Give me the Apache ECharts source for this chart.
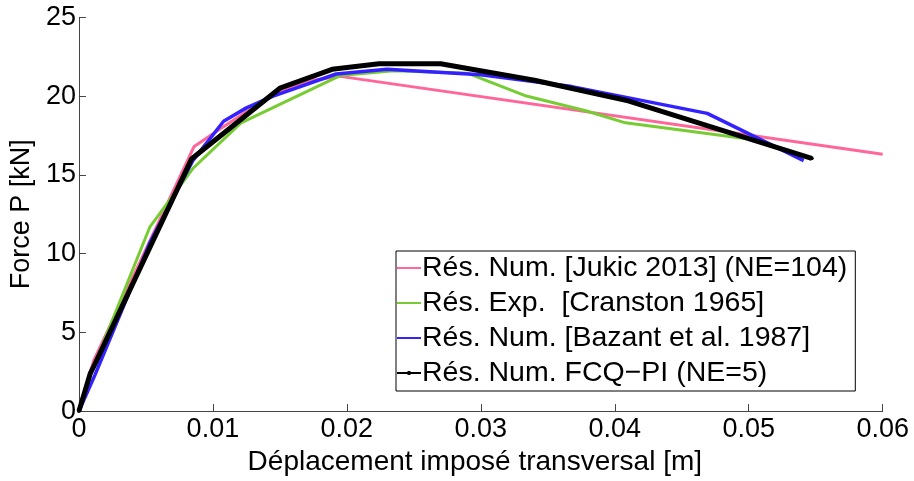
<!DOCTYPE html>
<html>
<head>
<meta charset="utf-8">
<script src="https://cdn.jsdelivr.net/npm/echarts@6/dist/echarts.min.js"></script>
<style>
  html, body { margin: 0; padding: 0; background: #fff; }
  #graph { width: 914px; height: 481px; }
</style>
</head>
<body>
<div id="graph"></div>
<script>
// tick labels
var xTicks = ['0', '0.01', '0.02', '0.03', '0.04', '0.05', '0.06'];
var yTicks = ['0', '5', '10', '15', '20', '25'];

// Rés. Num. [Jukic 2013] (NE=104)
var jukicX = [0, 0.0011, 0.0086, 0.0107, 0.0125, 0.015, 0.0175, 0.0195, 0.06];
var jukicY = [0, 3.2, 16.8, 18.0, 19.0, 20.3, 21.0, 21.25, 16.3];

// Rés. Exp. [Cranston 1965]
var cranstonX = [0, 0.001, 0.0053, 0.0085, 0.0121, 0.0195, 0.0235, 0.029, 0.0334, 0.0379, 0.0408, 0.0507];
var cranstonY = [0, 2.6, 11.7, 15.4, 18.3, 21.3, 21.6, 21.45, 20.0, 19.05, 18.3, 17.2];

// Rés. Num. [Bazant et al. 1987]
var bazantX = [0, 0.0012, 0.0053, 0.0085, 0.0108, 0.0125, 0.0145, 0.0192, 0.023, 0.03, 0.0368, 0.0469, 0.0541];
var bazantY = [0, 2.3, 10.7, 15.9, 18.4, 19.25, 20.0, 21.4, 21.7, 21.35, 20.6, 18.9, 15.9];

// Rés. Num. FCQ-PI (NE=5)
var fcqX = [0, 0.00085, 0.0012, 0.0084, 0.015, 0.0189, 0.0224, 0.027, 0.034, 0.041, 0.0547];
var fcqY = [0, 2.4, 3.0, 16.0, 20.5, 21.7, 22.05, 22.05, 21.0, 19.7, 16.05];

var names = [
  'Rés. Num. [Jukic 2013] (NE=104)',
  'Rés. Exp.  [Cranston 1965]',
  'Rés. Num. [Bazant et al. 1987]',
  'Rés. Num. FCQ\u2212PI (NE=5)'
];

function pairs(xs, ys) {
  var out = [];
  for (var i = 0; i < xs.length; i++) out.push([xs[i], ys[i]]);
  return out;
}

var font = 'Liberation Sans, Arial, Helvetica, sans-serif';
var axisCol = '#444';
// legend samples: plain thin line, and a line with a small dot for the black one
var lineIcon = 'path://M0,0 L24,0 L24,2 L0,2 Z';
var dotIcon = 'path://M0,1 L24,1 L24,3 L0,3 Z M10.5,0 L13.5,0 L13.5,4 L10.5,4 Z';

var chart = echarts.init(document.getElementById('graph'));
chart.setOption({
  animation: false,
  textStyle: { fontFamily: font, color: '#000' },
  grid: { left: 78.5, right: 31.3, top: 17.3, bottom: 63.7 },
  legend: {
    orient: 'vertical',
    left: 396,
    top: 251,
    backgroundColor: '#fff',
    borderColor: '#000',
    borderWidth: 1,
    padding: [2, 8, 3, 1],
    itemGap: 5,
    itemWidth: 24,
    itemHeight: 8,
    symbolKeepAspect: true,
    textStyle: { fontFamily: font, fontSize: 28.5, color: '#000', lineHeight: 30, padding: [0, 0, 0, -4] },
    data: [
      { name: names[0], icon: lineIcon },
      { name: names[1], icon: lineIcon },
      { name: names[2], icon: lineIcon },
      { name: names[3], icon: dotIcon }
    ]
  },
  xAxis: {
    type: 'value',
    min: 0,
    max: 0.06,
    interval: 0.01,
    name: 'Déplacement imposé transversal [m]',
    nameLocation: 'middle',
    nameGap: 30,
    nameTextStyle: { fontFamily: font, fontSize: 28, color: '#000', padding: [0, 12, 0, 0] },
    axisLine: { show: true, lineStyle: { color: axisCol, width: 1 } },
    axisTick: { show: true, inside: true, length: 7, lineStyle: { color: axisCol } },
    axisLabel: {
      fontFamily: font, fontSize: 27, color: '#000', margin: 5,
      formatter: function (v) { return xTicks[Math.round(v * 100)]; }
    },
    splitLine: { show: false }
  },
  yAxis: {
    type: 'value',
    min: 0,
    max: 25,
    interval: 5,
    name: 'Force P [kN]',
    nameLocation: 'middle',
    nameGap: 35,
    nameTextStyle: { fontFamily: font, fontSize: 27, color: '#000' },
    axisLine: { show: true, lineStyle: { color: axisCol, width: 1 } },
    axisTick: { show: true, inside: true, length: 7, lineStyle: { color: axisCol } },
    axisLabel: {
      fontFamily: font, fontSize: 27, color: '#000', margin: 3,
      formatter: function (v) { return yTicks[Math.round(v / 5)]; }
    },
    splitLine: { show: false }
  },
  series: [
    {
      name: names[0], type: 'line', symbol: 'none',
      lineStyle: { color: '#ff6699', width: 3 }, itemStyle: { color: '#ff6699' },
      data: pairs(jukicX, jukicY)
    },
    {
      name: names[1], type: 'line', symbol: 'none',
      lineStyle: { color: '#77cc33', width: 3 }, itemStyle: { color: '#77cc33' },
      data: pairs(cranstonX, cranstonY)
    },
    {
      name: names[2], type: 'line', symbol: 'none',
      lineStyle: { color: '#3322ff', width: 3.5 }, itemStyle: { color: '#3322ff' },
      data: pairs(bazantX, bazantY)
    },
    {
      name: names[3], type: 'line', symbol: 'circle', symbolSize: 4,
      lineStyle: { color: '#000', width: 5 }, itemStyle: { color: '#000' },
      data: pairs(fcqX, fcqY)
    }
  ]
});
</script>
</body>
</html>
